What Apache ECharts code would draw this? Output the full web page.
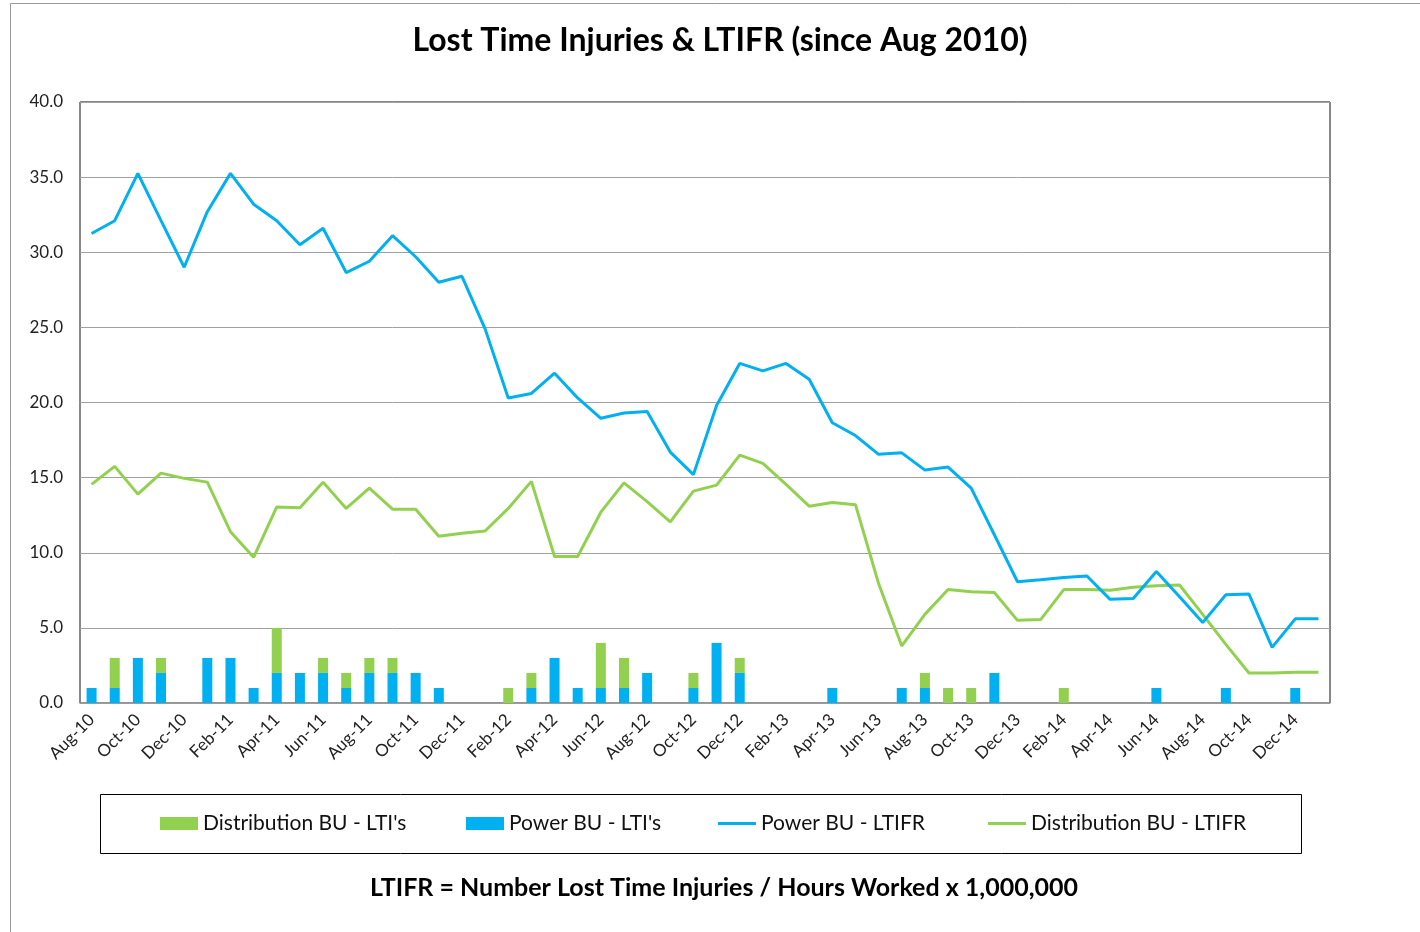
<!DOCTYPE html>
<html>
<head>
<meta charset="utf-8">
<script src="https://cdn.jsdelivr.net/npm/echarts@6/dist/echarts.min.js"></script>
<style>
html,body{margin:0;padding:0;background:#fff;}
#c{width:1420px;height:932px;}
</style>
</head>
<body>
<div id="c"></div>
<script>
const months = ['Aug-10','Sep-10','Oct-10','Nov-10','Dec-10',
 'Jan-11','Feb-11','Mar-11','Apr-11','May-11','Jun-11','Jul-11','Aug-11','Sep-11','Oct-11','Nov-11','Dec-11',
 'Jan-12','Feb-12','Mar-12','Apr-12','May-12','Jun-12','Jul-12','Aug-12','Sep-12','Oct-12','Nov-12','Dec-12',
 'Jan-13','Feb-13','Mar-13','Apr-13','May-13','Jun-13','Jul-13','Aug-13','Sep-13','Oct-13','Nov-13','Dec-13',
 'Jan-14','Feb-14','Mar-14','Apr-14','May-14','Jun-14','Jul-14','Aug-14','Sep-14','Oct-14','Nov-14','Dec-14',
 'Jan-15'];

const powerLTI = [1,1,3,2,0, 3,3,1,2,2,2,1,2,2,2,1,0, 0,0,1,3,1,1,1,2,0,1,4,2, 0,0,0,1,0,0,1,1,0,0,2,0, 0,0,0,0,0,1,0,0,1,0,0,1, 0];
const distLTI  = [0,2,0,1,0, 0,0,0,3,0,1,1,1,1,0,0,0, 0,1,1,0,0,3,2,0,0,1,0,1, 0,0,0,0,0,0,0,1,1,1,0,0, 0,1,0,0,0,0,0,0,0,0,0,0, 0];

const powerLTIFR = [31.25,32.1,35.25,32.1,29.0, 32.7,35.25,33.2,32.1,30.5,31.6,28.65,29.4,31.1,29.7,28.0,28.4,
 24.9,20.3,20.6,21.95,20.3,18.95,19.3,19.4,16.7,15.2,19.8,22.6,
 22.1,22.6,21.55,18.65,17.8,16.55,16.65,15.5,15.7,14.3,11.2,8.07,
 8.2,8.35,8.45,6.9,6.95,8.75,7.07,5.35,7.2,7.25,3.7,5.6, 5.6];
const distLTIFR = [14.55,15.75,13.9,15.3,14.95, 14.7,11.4,9.7,13.05,13.0,14.7,12.95,14.3,12.9,12.9,11.1,11.3,
 11.45,12.95,14.75,9.75,9.75,12.7,14.65,13.4,12.05,14.1,14.5,16.5,
 15.95,14.55,13.1,13.35,13.2,7.95,3.8,5.9,7.55,7.4,7.35,5.5,
 5.55,7.55,7.55,7.5,7.7,7.8,7.85,5.9,3.9,2.0,2.0,2.05, 2.05];

const yTicks = [0,5,10,15,20,25,30,35,40];

const BLUE = '#00B0F0', GREEN = '#92D050';
const FONT = 'Lato, "Open Sans", sans-serif';

const chart = echarts.init(document.getElementById('c'), null, {renderer:'canvas'});
function leg(left, name, lineIcon) {
  return {
    left: left, top: 813,
    itemWidth: 38, itemHeight: lineIcon ? 3 : 13, itemGap: 0,
    icon: 'rect',
    textStyle: {fontFamily: FONT, fontSize: 21, color: '#111', lineHeight: 21},
    padding: 0,
    data: [{name: name, icon: 'rect'}]
  };
}
chart.setOption({
  animation: false,
  backgroundColor: '#fff',
  graphic: [
    {type:'rect', shape:{x:10.5, y:3.5, width:1500, height:1000}, style:{fill:'none', stroke:'#999', lineWidth:1}, silent:true, z:-1},
    {type:'text', x:720, y:41, style:{text:'Lost Time Injuries & LTIFR (since Aug 2010)', textAlign:'center', textVerticalAlign:'middle', font:'bold 32px ' + FONT, fill:'#000'}},
    {type:'rect', shape:{x:100.5, y:794.5, width:1201, height:59}, style:{fill:'none', stroke:'#000', lineWidth:1}, silent:true},
    {type:'text', x:724, y:888, style:{text:'LTIFR = Number Lost Time Injuries / Hours Worked x 1,000,000', textAlign:'center', textVerticalAlign:'middle', font:'bold 25px ' + FONT, fill:'#000'}}
  ],
  legend: [
    leg(160, "Distribution BU - LTI's", false),
    leg(466, "Power BU - LTI's", false),
    leg(718, 'Power BU - LTIFR', true),
    leg(988, 'Distribution BU - LTIFR', true)
  ],
  grid: {left:80, top:102, right:90, bottom:229, show:true, borderColor:'#111', borderWidth:1},
  xAxis: {
    type:'category', data: months, boundaryGap:true,
    axisLine:{show:true, lineStyle:{color:'#999', width:1.5}},
    axisTick:{show:false},
    axisLabel:{interval:1, rotate:45, fontFamily:FONT, fontSize:17, color:'#222', margin:14}
  },
  yAxis: {
    type:'value', min:0, max:40, interval:5,
    axisLine:{show:false}, axisTick:{show:false},
    splitLine:{lineStyle:{color:'#a0a0a0', width:1}},
    axisLabel:{formatter: v => v.toFixed(1), fontFamily:FONT, fontSize:17, color:'#222', margin:17}
  },
  series: [
    {name:"Power BU - LTI's", type:'bar', stack:'lti', data: powerLTI, barWidth:10, itemStyle:{color:BLUE}},
    {name:"Distribution BU - LTI's", type:'bar', stack:'lti', data: distLTI, barWidth:10, itemStyle:{color:GREEN}},
    {name:'Power BU - LTIFR', type:'line', data: powerLTIFR, symbol:'none', lineStyle:{color:BLUE, width:3}, itemStyle:{color:BLUE}, z:5},
    {name:'Distribution BU - LTIFR', type:'line', data: distLTIFR, symbol:'none', lineStyle:{color:GREEN, width:3}, itemStyle:{color:GREEN}, z:4}
  ]
});
</script>
</body>
</html>
